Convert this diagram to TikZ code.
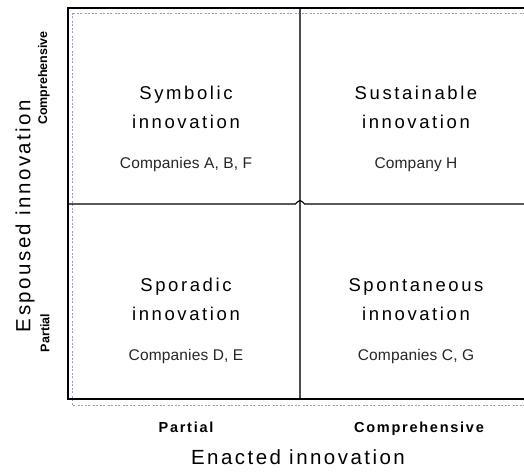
\documentclass[tikz,border=0pt]{standalone}
\usepackage{fontspec}
\setmainfont{Liberation Sans}
\newfontfamily\titlef[LetterSpace=14]{Liberation Sans}
\newfontfamily\compf[LetterSpace=1]{Liberation Sans}
\newfontfamily\axisf[LetterSpace=12]{Liberation Sans}
\newfontfamily\plainf{Liberation Sans}
\begin{document}
\begin{tikzpicture}[x=1pt,y=-1pt,
  quadtitle/.style={font=\titlef\fontsize{18.5}{29}\selectfont, align=center, anchor=base, inner sep=0pt},
  comptext/.style={font=\compf\fontsize{15.5}{17}\selectfont, anchor=base, inner sep=0pt, text=black!85},
  levellabel/.style={font=\axisf\bfseries\fontsize{14.5}{16}\selectfont, inner sep=0pt},
  sidelabel/.style={font=\plainf\bfseries\fontsize{12.5}{14}\selectfont, inner sep=0pt},
  axistitle/.style={font=\axisf\fontsize{20.5}{22}\selectfont, inner sep=0pt},
  frame/.style={line width=2.6pt, black},
  divider/.style={line width=1.1pt, black!70},
  guide/.style={line width=0.5pt, draw=blue!30!gray!60, dash pattern=on 2pt off 1pt on 2pt off 2.5pt}
]
\useasboundingbox (0,0) rectangle (524,475);
\clip (0,0) rectangle (524,475);
\fill[white] (0,0) rectangle (524,475);

% dotted guide rectangle
\draw[guide] (72,13) rectangle (540,405);

% quadrant dividers
\coordinate (vtop) at (300,8);
\coordinate (vbot) at (300,399);
\coordinate (hl) at (68,204);
\coordinate (hr) at (540,204);
\draw[divider] (vtop) -- (vbot);
\draw[line width=1.1pt, black] (hl) -- (295.5,204) .. controls (296.5,204) and (297,200.5) .. (300,200.5)
  .. controls (303,200.5) and (303.5,204) .. (304.5,204) -- (hr);

% outer frame
\draw[frame] (540,8) -- (68,8) -- (68,399) -- (540,399);

% quadrant texts
\node[quadtitle] (symb) at (186,128) {Symbolic\\innovation};
\node[comptext] (symbc) at (186,168) {Companies A, B, F};
\node[quadtitle] (sust) at (416,128) {Sustainable\\innovation};
\node[comptext] (sustc) at (416,168) {Company H};
\node[quadtitle] (spor) at (186,320) {Sporadic\\innovation};
\node[comptext] (sporc) at (186,360) {Companies D, E};
\node[quadtitle] (spon) at (416,320) {Spontaneous\\innovation};
\node[comptext] (sponc) at (416,360) {Companies C, G};

% axis labels
\node[levellabel, anchor=base] (xpart) at (186,432) {Partial};
\node[levellabel, anchor=base] (xcomp) at (419,432) {Comprehensive};
\node[axistitle, anchor=base] (xtitle) at (298,464) {Enacted innovation};
\node[sidelabel, rotate=90] (ycomp) at (44,78) {Comprehensive};
\node[sidelabel, rotate=90] (ypart) at (45,333) {Partial};
\node[axistitle, rotate=90] (ytitle) at (25,216) {Espoused innovation};
\end{tikzpicture}
\end{document}
